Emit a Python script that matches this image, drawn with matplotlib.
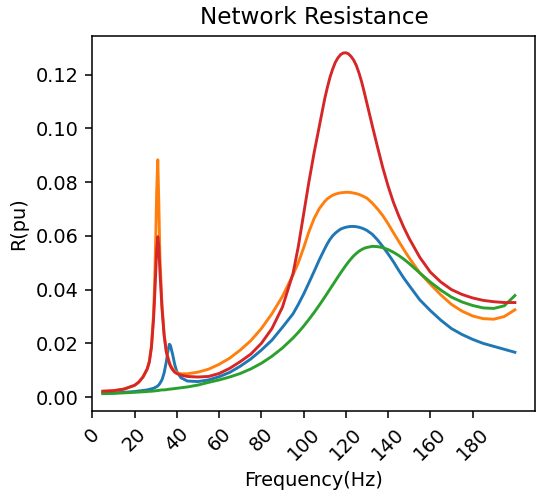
import matplotlib
matplotlib.use("Agg")
import matplotlib.pyplot as plt
import numpy as np

# Частотная сетка (Гц), сгущённая около резонансов
freq = [5, 10, 15, 20, 22, 24, 26, 27, 28, 29, 29.5, 30, 30.5, 31, 31.5, 32,
        33, 34, 35, 36, 36.5, 37, 38, 39, 40, 42, 45, 50, 55, 60, 65, 70, 75,
        80, 85, 90, 95,
        97.5, 100, 102.5, 105, 107.5,
        110, 111.25, 112.5, 113.75, 115, 116.25, 117.5, 118.75, 120, 121.25,
        122.5, 123.75, 125, 126.25, 127.5, 128.75, 130,
        132.5, 135, 137.5, 140, 142.5, 145, 147.5, 150,
        155, 160, 165, 170, 175, 180, 185, 190, 195, 200]

# Сопротивление сети (о.е.) для четырёх вариантов
r_case1 = [0.0015, 0.0016, 0.0018, 0.0021, 0.0023, 0.0025, 0.0027, 0.0029,
           0.0031, 0.0033, 0.0035, 0.0037, 0.0039, 0.0042, 0.0046, 0.0051,
           0.0065, 0.0090, 0.0130, 0.0180, 0.0197, 0.0192, 0.0160, 0.0122,
           0.0095, 0.0072, 0.0060, 0.0058, 0.0064, 0.0076, 0.0092, 0.0115,
           0.0142, 0.0175, 0.0212, 0.0260, 0.0310,
           0.0345, 0.0383, 0.0425, 0.0468, 0.0512,
           0.0552, 0.0571, 0.0587, 0.0600, 0.0610, 0.0618, 0.0625, 0.0629,
           0.0632, 0.0634, 0.0635, 0.0635, 0.0634, 0.0632, 0.0629, 0.0625,
           0.0620,
           0.0606, 0.0585, 0.0560, 0.0533, 0.0504, 0.0472, 0.0442, 0.0415,
           0.0362, 0.0322, 0.0286, 0.0255, 0.0233, 0.0215, 0.0200, 0.0189,
           0.0178, 0.0167]

r_case2 = [0.0022, 0.0024, 0.0030, 0.0044, 0.0056, 0.0075, 0.0105, 0.0135,
           0.0190, 0.0310, 0.0420, 0.0580, 0.0770, 0.0883, 0.0720, 0.0520,
           0.0340, 0.0235, 0.0175, 0.0142, 0.0130, 0.0120, 0.0106, 0.0097,
           0.0091, 0.0087, 0.0087, 0.0093, 0.0104, 0.0122, 0.0145, 0.0175,
           0.0210, 0.0255, 0.0310, 0.0375, 0.0455,
           0.0500, 0.0555, 0.0615, 0.0665, 0.0702,
           0.0728, 0.0738, 0.0745, 0.0751, 0.0755, 0.0758, 0.0760, 0.0761,
           0.0762, 0.0762, 0.0761, 0.0759, 0.0757, 0.0754, 0.0750, 0.0745,
           0.0740,
           0.0722, 0.0700, 0.0675, 0.0645, 0.0612, 0.0580, 0.0548, 0.0518,
           0.0462, 0.0420, 0.0380, 0.0345, 0.0320, 0.0302, 0.0292, 0.0290,
           0.0300, 0.0325]

r_case3 = [0.0013, 0.0014, 0.0016, 0.0018, 0.0019, 0.0020, 0.0021, 0.0022,
           0.0022, 0.0023, 0.0023, 0.0024, 0.0024, 0.0025, 0.0025, 0.0026,
           0.0027, 0.0027, 0.0028, 0.0029, 0.0030, 0.0030, 0.0031, 0.0032,
           0.0033, 0.0035, 0.0038, 0.0045, 0.0055, 0.0064, 0.0075, 0.0088,
           0.0105, 0.0126, 0.0152, 0.0183, 0.0220,
           0.0241, 0.0264, 0.0289, 0.0315, 0.0343,
           0.0372, 0.0387, 0.0402, 0.0417, 0.0432, 0.0447, 0.0462, 0.0476,
           0.0490, 0.0503, 0.0515, 0.0526, 0.0535, 0.0543, 0.0549, 0.0554,
           0.0557,
           0.0561, 0.0560, 0.0556, 0.0549, 0.0539, 0.0527, 0.0513, 0.0497,
           0.0462, 0.0428, 0.0398, 0.0372, 0.0354, 0.0341, 0.0332, 0.0330,
           0.0340, 0.0378]

r_case4 = [0.0022, 0.0024, 0.0030, 0.0044, 0.0056, 0.0075, 0.0105, 0.0130,
           0.0185, 0.0290, 0.0370, 0.0460, 0.0550, 0.0597, 0.0560, 0.0470,
           0.0330, 0.0230, 0.0170, 0.0138, 0.0125, 0.0115, 0.0102, 0.0093,
           0.0088, 0.0082, 0.0077, 0.0075, 0.0077, 0.0088, 0.0107, 0.0132,
           0.0160, 0.0200, 0.0255, 0.0335, 0.0460,
           0.0560, 0.0680, 0.0800, 0.0910, 0.1010,
           0.1110, 0.1152, 0.1190, 0.1220, 0.1245, 0.1262, 0.1274, 0.1280,
           0.1281, 0.1277, 0.1267, 0.1253, 0.1233, 0.1205, 0.1172, 0.1133,
           0.1092,
           0.1010, 0.0930, 0.0853, 0.0785, 0.0725, 0.0675, 0.0630, 0.0590,
           0.0520, 0.0465, 0.0428, 0.0400, 0.0382, 0.0369, 0.0360, 0.0355,
           0.0352, 0.0352]

fig = plt.figure(figsize=(539 / 139, 490 / 139), dpi=139)
ax = fig.add_axes([0.1712, 0.1618, 0.9935 - 0.1712, 0.9271 - 0.1618])

for r in (r_case1, r_case2, r_case3, r_case4):
    ax.plot(freq, r)

ax.set_xlim(left=0)
ax.set_xticks(np.arange(0, 200, 20))
plt.setp(ax.get_xticklabels(), rotation=45)
ax.set_title("Network Resistance")
ax.set_xlabel("Frequency(Hz)")
ax.set_ylabel("R(pu)")

fig.savefig("out.png", dpi=139)
